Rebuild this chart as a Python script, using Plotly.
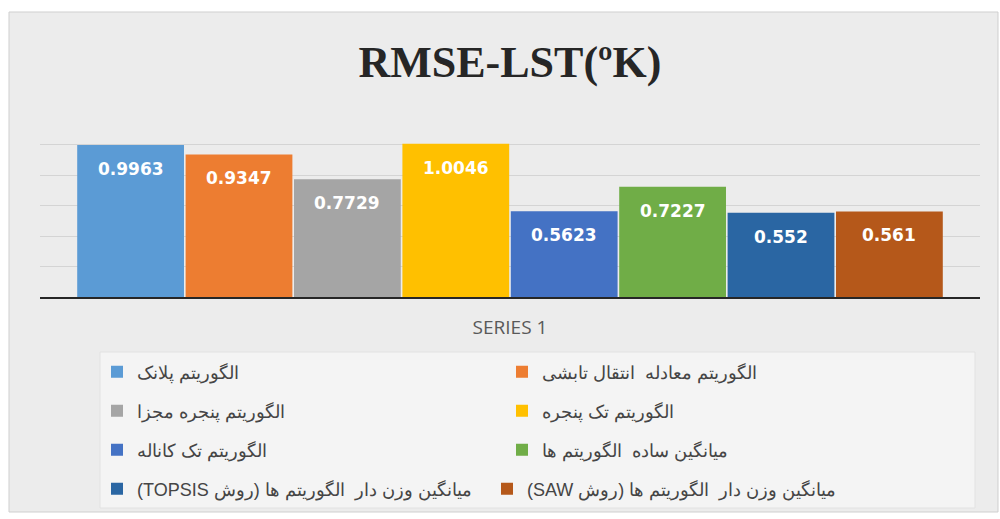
import plotly.graph_objects as go

# ---- data ----
series_names = [
    "الگوریتم پلانک",
    "الگوریتم معادله  انتقال تابشی",
    "الگوریتم پنجره مجزا",
    "الگوریتم تک پنجره",
    "الگوریتم تک کاناله",
    "میانگین ساده  الگوریتم ها",
    "\u202bمیانگین وزن دار  الگوریتم ها (روش TOPSIS)\u202c",
    "\u202bمیانگین وزن دار  الگوریتم ها (روش SAW)\u202c",
]
rmse_values = [0.9963, 0.9347, 0.7729, 1.0046, 0.5623, 0.7227, 0.552, 0.561]
value_labels = ["0.9963", "0.9347", "0.7729", "1.0046", "0.5623", "0.7227", "0.552", "0.561"]
bar_colors = ["#5B9BD5", "#ED7D31", "#A5A5A5", "#FFC000",
              "#4472C4", "#70AD47", "#2A66A3", "#B5581A"]
category_label = "SERIES 1"
title_text = "RMSE-LST(ºK)"
grid_ticks = [0.2, 0.4, 0.6, 0.8, 1.0]

# ---- layout geometry (pixels) ----
W, H = 1000, 519
ML, MR, MT, MB = 40, 20, 114, 222
plot_w = W - ML - MR
plot_h = H - MT - MB

def px_x(x):
    return (x - ML) / plot_w

def px_y(y):
    return (H - MB - y) / plot_h

legend_names = ["legend", "legend2", "legend3", "legend4"]

fig = go.Figure()
for i, (name, val, col) in enumerate(zip(series_names, rmse_values, bar_colors)):
    fig.add_trace(go.Bar(
        x=[i], y=[val], name=name, width=0.985,
        marker=dict(color=col, line=dict(width=0)),
        legend=legend_names[i // 2],
        hoverinfo="name+y",
    ))
    fig.add_annotation(
        x=i, y=val, text=value_labels[i], showarrow=False,
        yanchor="middle", yshift=-24,
        font=dict(family="DejaVu Sans", size=17, color="#ffffff", weight="bold"),
    )

n = len(rmse_values)
half_span = (plot_w / 108.4) / 2
center = (n - 1) / 2

# background frame and legend box
fig.add_shape(type="rect", xref="paper", yref="paper", layer="below",
              x0=px_x(9), x1=px_x(998), y0=px_y(512), y1=px_y(12),
              fillcolor="#ececec", line=dict(color="#cfcfcf", width=1))
fig.add_shape(type="rect", xref="paper", yref="paper", layer="below",
              x0=px_x(100), x1=px_x(975), y0=px_y(508), y1=px_y(352),
              fillcolor="#f4f4f4", line=dict(color="#e2e2e2", width=1))

legend_rows_y = [372, 411, 450, 489]
entry_widths = [360, 360, 360, 345]
leg_cfg = {}
for k, (ln, ry, ew) in enumerate(zip(legend_names, legend_rows_y, entry_widths)):
    leg_cfg[ln] = dict(
        orientation="h", x=px_x(97), xanchor="left", y=px_y(ry), yanchor="middle",
        entrywidth=ew, entrywidthmode="pixels", bgcolor="rgba(0,0,0,0)",
        font=dict(family="Liberation Sans, Arial", size=18, color="#454545"),
        traceorder="normal", itemclick=False, itemdoubleclick=False,
    )

fig.update_layout(
    width=W, height=H,
    margin=dict(l=ML, r=MR, t=MT, b=MB, pad=0),
    paper_bgcolor="#ffffff", plot_bgcolor="rgba(0,0,0,0)",
    barmode="overlay", showlegend=True,
    title=dict(text=title_text, x=0.51, xref="container", xanchor="center",
               y=1 - 62 / H, yref="container", yanchor="middle",
               font=dict(family="Liberation Serif", size=44, color="#262626", weight="bold")),
    xaxis=dict(range=[center - half_span, center + half_span],
               tickvals=[center], ticktext=[category_label], ticks="",
               showgrid=False, zeroline=False, showline=True,
               linecolor="#262626", linewidth=2, ticklabelstandoff=12,
               tickfont=dict(family="Open Sans", size=19, color="#595959"),
               fixedrange=True),
    yaxis=dict(range=[0, 1.2], tickvals=grid_ticks, showticklabels=False,
               showgrid=True, gridcolor="#d4d4d4", gridwidth=1,
               zeroline=False, showline=False, fixedrange=True),
    **leg_cfg,
)

fig.write_html(
    "out.html",
    config={"displayModeBar": False},
    post_script="document.body.style.margin='0';document.body.style.padding='0';",
)
